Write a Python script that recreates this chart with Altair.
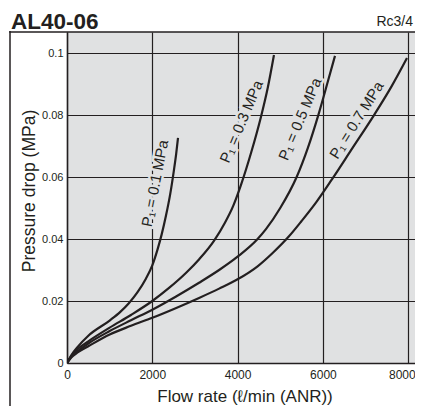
import altair as alt
import pandas as pd

# ---- data ----
series_names = ["0.1", "0.3", "0.5", "0.7"]

flow_01 = [0, 100, 250, 500, 1000, 1250, 1450, 1650, 1850, 2000, 2120, 2220, 2320, 2420, 2510, 2560, 2603]
dp_01 = [0, 0.0025, 0.0052, 0.0088, 0.0137, 0.0165, 0.0193, 0.0228, 0.0272, 0.0315, 0.0365, 0.0415, 0.0475, 0.0545, 0.0625, 0.0675, 0.0726]

flow_03 = [0, 100, 250, 500, 1000, 1500, 2000, 2400, 2800, 3100, 3450, 3700, 3900, 4080, 4320, 4540, 4710, 4853]
dp_03 = [0, 0.0022, 0.0045, 0.007, 0.0114, 0.0155, 0.020, 0.0243, 0.0292, 0.0335, 0.0395, 0.0452, 0.0508, 0.0575, 0.068, 0.079, 0.089, 0.0994]

flow_05 = [0, 100, 250, 500, 1000, 1500, 2000, 2548, 3097, 3567, 4000, 4469, 4665, 5000, 5385, 5650, 5893, 6100, 6284]
dp_05 = [0, 0.002, 0.0038, 0.0063, 0.0103, 0.0138, 0.0172, 0.0214, 0.0259, 0.030, 0.0343, 0.040, 0.0432, 0.050, 0.060, 0.0695, 0.080, 0.090, 0.0991]

flow_07 = [0, 100, 250, 500, 1000, 1500, 2000, 2548, 3097, 3567, 4000, 4469, 4822, 5200, 5500, 5850, 6200, 6700, 7200, 7600, 7972]
dp_07 = [0, 0.0018, 0.0034, 0.0054, 0.0092, 0.012, 0.0146, 0.0177, 0.021, 0.024, 0.027, 0.0312, 0.0355, 0.0408, 0.0458, 0.052, 0.059, 0.0695, 0.080, 0.089, 0.0984]

label_texts = ["P₁ = 0.1 MPa", "P₁ = 0.3 MPa", "P₁ = 0.5 MPa", "P₁ = 0.7 MPa"]
label_flow = [2063, 4091, 5463, 6792]
label_dp = [0.058, 0.0779, 0.0787, 0.0784]
label_angle = [281, 293, 293, 302]

x_ticks = [0, 2000, 4000, 6000, 8000]
y_ticks = [0, 0.02, 0.04, 0.06, 0.08, 0.1]

title_text = "AL40-06"
port_text = "Rc3/4"
x_title = "Flow rate (ℓ/min (ANR))"
y_title = "Pressure drop (MPa)"

# ---- tables ----
rows = []
for name, fl, dp in zip(series_names, [flow_01, flow_03, flow_05, flow_07],
                        [dp_01, dp_03, dp_05, dp_07]):
    for i, (f, d) in enumerate(zip(fl, dp)):
        rows.append({"series": name, "flow": f, "dp": d, "order": i})
curves = pd.DataFrame(rows)

labels = pd.DataFrame({"text": label_texts, "flow": label_flow,
                       "dp": label_dp, "angle": label_angle})

INK = "#231f20"
BG = "#e0e1e2"
FONT = "Liberation Sans"
W, H = 348, 331
last_tick = x_ticks[-1]

xs = alt.Scale(domain=[0, 8160], nice=False, zero=False)
ys = alt.Scale(domain=[0, 0.1068], nice=False, zero=False)

x_enc = alt.X("flow:Q", scale=xs, axis=alt.Axis(
    values=x_ticks, title=None, grid=True, gridColor=INK, gridWidth=1.2,
    gridOpacity=1, ticks=False, domainColor=INK, domainWidth=1.5,
    labelFontSize=12, labelFont=FONT, labelColor=INK, labelPadding=6,
    labelFlush=False, format="d",
    labelAlign={"condition": {"test": f"datum.value == {last_tick}", "value": "right"},
                "value": "center"},
    labelOffset={"condition": {"test": f"datum.value == {last_tick}", "value": 7},
                 "value": 0}))
y_enc = alt.Y("dp:Q", scale=ys, axis=alt.Axis(
    values=y_ticks, title=None, grid=True, gridColor=INK, gridWidth=1.2,
    gridOpacity=1, ticks=False, domainColor=INK, domainWidth=1.5,
    labelFontSize=11, labelFont=FONT, labelColor=INK, labelPadding=4,
    labelFlush=False, format="~g"))

lines = alt.Chart(curves).mark_line(
    interpolate="monotone", strokeWidth=2.2, color=INK, clip=True
).encode(x=x_enc, y=y_enc, detail="series:N", order="order:Q")

halo = alt.Chart(labels).mark_text(
    font=FONT, fontSize=15, stroke=BG, strokeWidth=5, color=BG,
    align="center", baseline="middle"
).encode(x=alt.X("flow:Q", scale=xs), y=alt.Y("dp:Q", scale=ys),
         text="text:N", angle=alt.Angle("angle:Q", scale=None))

txt = alt.Chart(labels).mark_text(
    font=FONT, fontSize=15, color=INK, align="center", baseline="middle"
).encode(x=alt.X("flow:Q", scale=xs), y=alt.Y("dp:Q", scale=ys),
         text="text:N", angle=alt.Angle("angle:Q", scale=None))

one = pd.DataFrame({"k": [0]})

frame_v = alt.Chart(one).mark_rule(color=INK, strokeWidth=1.5).encode(
    x=alt.value(-57), y=alt.value(-1), y2=alt.value(H + 80))
frame_h = alt.Chart(one).mark_rule(color=INK, strokeWidth=1.5).encode(
    x=alt.value(-57.75), x2=alt.value(W + 10), y=alt.value(0))

title_mark = alt.Chart(one).mark_text(
    text=title_text, font=FONT, fontSize=22.5, fontWeight="bold", color=INK,
    align="left", baseline="alphabetic"
).encode(x=alt.value(-56), y=alt.value(-3.5))

port_mark = alt.Chart(one).mark_text(
    text=port_text, font=FONT, fontSize=14, color=INK,
    align="right", baseline="alphabetic"
).encode(x=alt.value(346), y=alt.value(-6))

xt = alt.Chart(one).mark_text(
    text=x_title, font=FONT, fontSize=17, color=INK,
    align="center", baseline="middle"
).encode(x=alt.value(178), y=alt.value(365))

yt = alt.Chart(one).mark_text(
    text=y_title, font=FONT, fontSize=17.5, color=INK, angle=270,
    align="center", baseline="middle"
).encode(x=alt.value(-37), y=alt.value(159))

chart = alt.layer(
    lines, halo, txt, frame_v, frame_h, title_mark, port_mark, xt, yt
).properties(
    width=W, height=H,
    padding={"left": 59, "top": 24, "right": 0, "bottom": 43},
    autosize=alt.AutoSizeParams(type="none"),
).configure_view(fill=BG, stroke=None)

chart.save("out.html", embed_options={"renderer": "svg", "actions": False})
